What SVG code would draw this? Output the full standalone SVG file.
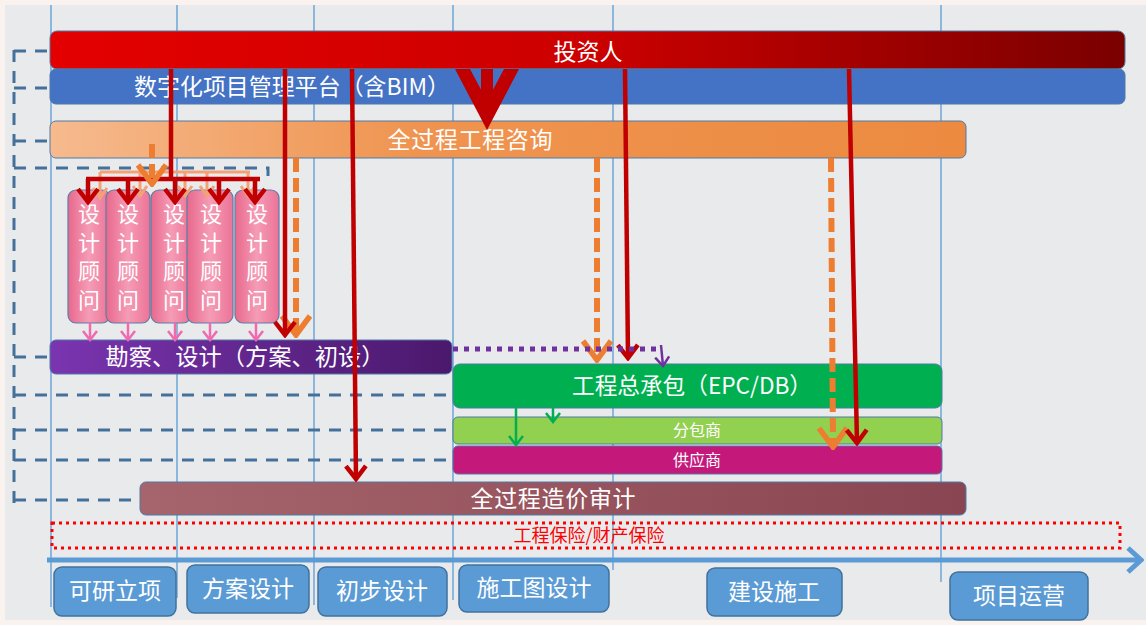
<svg xmlns="http://www.w3.org/2000/svg" width="1146" height="625" viewBox="0 0 1146 625">
<style>
.t{font-family:"Noto Sans CJK SC","Noto Sans",sans-serif;fill:#fff;text-anchor:middle}
.t22{font-size:23px}
.t16{font-size:16px}
.vt{font-family:"Noto Sans CJK SC","Noto Sans",sans-serif;fill:#fff;font-size:22px;writing-mode:vertical-rl;letter-spacing:6.5px}
.grid{stroke:#5b9bd5;stroke-width:1.3}
.band{stroke:#4f7aa6;stroke-width:1}
.lead{fill:none;stroke:#44709a;stroke-width:3;stroke-dasharray:12 9}
.red{fill:none;stroke:#c00000;stroke-width:4.5}
.orgd{fill:none;stroke:#ed7d31;stroke-width:6;stroke-dasharray:14 6}
.orgl{fill:none;stroke:#f3a277;stroke-width:3}
.pink{fill:none;stroke:#f06ab0;stroke-width:2.5}
.green{fill:none;stroke:#00b050;stroke-width:2.5}
.purp{fill:none;stroke:#7030a0;stroke-width:2.5}
.stage{fill:#5b9bd5;stroke:#41719c;stroke-width:1.5}
.dc{fill:url(#gPink);stroke:#5b7fa6;stroke-width:1.2}
</style>
<defs>
<linearGradient id="gRed" x1="0" y1="0" x2="1" y2="0"><stop offset="0" stop-color="#e40000"/><stop offset="0.5" stop-color="#cc0000"/><stop offset="1" stop-color="#7a0000"/></linearGradient>
<linearGradient id="gOrange" x1="0" y1="0" x2="1" y2="0"><stop offset="0" stop-color="#f6ba8e"/><stop offset="0.4" stop-color="#ef9450"/><stop offset="1" stop-color="#ec8a40"/></linearGradient>
<linearGradient id="gPurple" x1="0" y1="0" x2="1" y2="0"><stop offset="0" stop-color="#7a35b0"/><stop offset="1" stop-color="#4a186c"/></linearGradient>
<linearGradient id="gBrown" x1="0" y1="0" x2="1" y2="0"><stop offset="0" stop-color="#a6646c"/><stop offset="1" stop-color="#894652"/></linearGradient>
<linearGradient id="gPink" x1="0" y1="0" x2="1" y2="0"><stop offset="0" stop-color="#e8688c"/><stop offset="0.5" stop-color="#f59cb6"/><stop offset="1" stop-color="#ec7397"/></linearGradient>
<marker id="mRed" markerUnits="userSpaceOnUse" viewBox="0 0 18 24" markerWidth="18" markerHeight="24" refX="15" refY="12" orient="auto"><path d="M2,2 L15,12 L2,22" fill="none" stroke="#c00000" stroke-width="4.5"/></marker>
<marker id="mOrg" markerUnits="userSpaceOnUse" viewBox="0 0 24 32" markerWidth="24" markerHeight="32" refX="21" refY="16" orient="auto"><path d="M2,2 L21,16 L2,30" fill="none" stroke="#ed7d31" stroke-width="5.5"/></marker>
<marker id="mOrgL" markerUnits="userSpaceOnUse" viewBox="0 0 14 18" markerWidth="14" markerHeight="18" refX="12" refY="9" orient="auto"><path d="M2,2 L12,9 L2,16" fill="none" stroke="#f3a277" stroke-width="3"/></marker>
<marker id="mPink" markerUnits="userSpaceOnUse" viewBox="0 0 12 16" markerWidth="12" markerHeight="16" refX="10" refY="8" orient="auto"><path d="M1,1 L10,8 L1,15" fill="none" stroke="#f06ab0" stroke-width="2.5"/></marker>
<marker id="mGreen" markerUnits="userSpaceOnUse" viewBox="0 0 12 16" markerWidth="12" markerHeight="16" refX="10" refY="8" orient="auto"><path d="M1,1 L10,8 L1,15" fill="none" stroke="#00b050" stroke-width="2.5"/></marker>
<marker id="mPurp" markerUnits="userSpaceOnUse" viewBox="0 0 12 16" markerWidth="12" markerHeight="16" refX="10" refY="8" orient="auto"><path d="M1,1 L10,8 L1,15" fill="none" stroke="#7030a0" stroke-width="2.5"/></marker>
<marker id="mAxis" markerUnits="userSpaceOnUse" viewBox="0 0 18 28" markerWidth="18" markerHeight="28" refX="15" refY="14" orient="auto"><path d="M2,2 L15,14 L2,26" fill="none" stroke="#5b9bd5" stroke-width="5"/></marker>
</defs>

<rect x="0" y="0" width="1146" height="625" fill="#faf2ee"/>
<rect x="5" y="5" width="1141" height="615" fill="#e9eaec"/>

<g id="grid">
<line class="grid" x1="51" y1="5" x2="51" y2="607"/>
<line class="grid" x1="177" y1="5" x2="177" y2="598"/>
<line class="grid" x1="314" y1="5" x2="314" y2="605"/>
<line class="grid" x1="453" y1="5" x2="453" y2="600"/>
<line class="grid" x1="613" y1="5" x2="613" y2="570"/>
<line class="grid" x1="941" y1="5" x2="941" y2="582"/>
</g>

<g id="investor"><rect class="band" x="50" y="31" width="1075" height="38" rx="7" fill="url(#gRed)"/><text class="t t22" x="588" y="60">投资人</text></g>
<g id="platform"><rect class="band" x="50" y="69" width="1075" height="35" rx="6" fill="#4472c4"/><text class="t t22" x="292" y="95" textLength="316" lengthAdjust="spacingAndGlyphs">数字化项目管理平台（含BIM）</text></g>
<g id="consult"><rect class="band" x="50" y="121" width="916" height="37" rx="6" fill="url(#gOrange)"/><text class="t t22" x="470" y="148" textLength="165">全过程工程咨询</text></g>

<g id="dc1"><rect class="dc" x="68" y="190" width="42" height="133" rx="8"/><text class="vt" x="89" y="203">设计顾问</text></g>
<g id="dc2"><rect class="dc" x="106" y="190" width="44" height="133" rx="8"/><text class="vt" x="128" y="203">设计顾问</text></g>
<g id="dc3"><rect class="dc" x="151" y="190" width="40" height="133" rx="8"/><text class="vt" x="174" y="203">设计顾问</text></g>
<g id="dc4"><rect class="dc" x="187" y="190" width="46" height="133" rx="8"/><text class="vt" x="211" y="203">设计顾问</text></g>
<g id="dc5"><rect class="dc" x="235" y="190" width="44" height="133" rx="8"/><text class="vt" x="257" y="203">设计顾问</text></g>

<g id="survey"><rect class="band" x="50" y="340" width="402" height="34" rx="6" fill="url(#gPurple)"/><text class="t t22" x="245" y="365" textLength="279" lengthAdjust="spacingAndGlyphs">勘察、设计（方案、初设）</text></g>
<g id="epc"><rect class="band" x="453" y="364" width="489" height="44" rx="7" fill="#00b050"/><text class="t t22" x="692" y="394" textLength="240" lengthAdjust="spacingAndGlyphs">工程总承包（EPC/DB）</text></g>
<g id="sub"><rect class="band" x="453" y="417" width="489" height="27" rx="5" fill="#92d050"/><text class="t t16" x="697" y="436">分包商</text></g>
<g id="supplier"><rect class="band" x="453" y="446" width="489" height="28" rx="5" fill="#c4197b"/><text class="t t16" x="697" y="466">供应商</text></g>
<g id="audit"><rect class="band" x="140" y="482" width="826" height="33" rx="6" fill="url(#gBrown)"/><text class="t t22" x="553" y="507" textLength="165">全过程造价审计</text></g>
<g id="insurance"><rect x="52" y="523" width="1068" height="25" fill="none" stroke="#ff0000" stroke-width="3" stroke-dasharray="3 4"/><text class="t" x="589" y="542" style="font-size:18px;fill:#ff0000">工程保险/财产保险</text></g>

<g id="stages">
<g id="s1"><rect class="stage" x="54" y="567" width="122" height="49" rx="8"/><text class="t t22" x="115" y="599">可研立项</text></g>
<g id="s2"><rect class="stage" x="187" y="565" width="122" height="48" rx="8"/><text class="t t22" x="248" y="597">方案设计</text></g>
<g id="s3"><rect class="stage" x="318" y="567" width="129" height="49" rx="8"/><text class="t t22" x="382" y="599">初步设计</text></g>
<g id="s4"><rect class="stage" x="459" y="565" width="150" height="47" rx="8"/><text class="t t22" x="534" y="596">施工图设计</text></g>
<g id="s5"><rect class="stage" x="707" y="568" width="135" height="48" rx="8"/><text class="t t22" x="774" y="600">建设施工</text></g>
<g id="s6"><rect class="stage" x="950" y="572" width="138" height="48" rx="8"/><text class="t t22" x="1019" y="604">项目运营</text></g>
</g>

<g id="connectors">
<path class="lead" d="M14,50 V512"/>
<path class="lead" d="M14,51 H48"/>
<path class="lead" d="M14,88 H48"/>
<path class="lead" d="M14,141 H48"/>
<path class="lead" d="M14,168 H268 V176"/>
<path class="lead" d="M14,357 H48"/>
<path class="lead" d="M14,395 H451"/>
<path class="lead" d="M14,430 H451"/>
<path class="lead" d="M14,460 H451"/>
<path class="lead" d="M14,500 H138"/>
<line x1="47" y1="560" x2="1141" y2="560" stroke="#5b9bd5" stroke-width="5" marker-end="url(#mAxis)"/>
<path class="orgl" d="M100,172 H250"/>
<line class="orgl" x1="100" y1="172" x2="100" y2="198" marker-end="url(#mOrgL)"/>
<line class="orgl" x1="140" y1="172" x2="140" y2="196" marker-end="url(#mOrgL)"/>
<line class="orgl" x1="185" y1="172" x2="185" y2="196" marker-end="url(#mOrgL)"/>
<line class="orgl" x1="207" y1="172" x2="207" y2="196" marker-end="url(#mOrgL)"/>
<line class="orgl" x1="248" y1="172" x2="248" y2="196" marker-end="url(#mOrgL)"/>
<path class="red" d="M171,69 V179 M86,179 H260"/>
<line class="red" x1="88" y1="179" x2="88" y2="202" marker-end="url(#mRed)"/>
<line class="red" x1="128" y1="179" x2="128" y2="202" marker-end="url(#mRed)"/>
<line class="red" x1="175" y1="179" x2="175" y2="202" marker-end="url(#mRed)"/>
<line class="red" x1="219" y1="179" x2="219" y2="202" marker-end="url(#mRed)"/>
<line class="red" x1="255" y1="179" x2="255" y2="202" marker-end="url(#mRed)"/>
<line class="orgd" x1="152" y1="144" x2="152" y2="184" marker-end="url(#mOrg)"/>
<line class="orgd" x1="296" y1="158" x2="296" y2="335" marker-end="url(#mOrg)"/>
<line class="orgd" x1="597" y1="158" x2="597" y2="360" marker-end="url(#mOrg)"/>
<line class="orgd" x1="831" y1="158" x2="833" y2="447" marker-end="url(#mOrg)"/>
<line class="red" x1="285" y1="69" x2="285" y2="335" marker-end="url(#mRed)"/>
<line class="red" x1="352" y1="69" x2="356" y2="479" marker-end="url(#mRed)"/>
<line class="red" x1="625" y1="69" x2="628" y2="358" marker-end="url(#mRed)"/>
<line class="red" x1="849" y1="69" x2="857" y2="443" marker-end="url(#mRed)"/>
<polygon points="455,69 470,69 487,101 504,69 519,69 487,130" fill="#c00000"/>
<rect x="481" y="69" width="12" height="36" fill="#c00000"/>
<line class="pink" x1="90" y1="323" x2="90" y2="340" marker-end="url(#mPink)"/>
<line class="pink" x1="128" y1="323" x2="128" y2="340" marker-end="url(#mPink)"/>
<line class="pink" x1="175" y1="323" x2="175" y2="340" marker-end="url(#mPink)"/>
<line class="pink" x1="210" y1="323" x2="210" y2="340" marker-end="url(#mPink)"/>
<line class="pink" x1="256" y1="323" x2="256" y2="340" marker-end="url(#mPink)"/>
<path d="M453,349 H660" fill="none" stroke="#7030a0" stroke-width="5" stroke-dasharray="5 6"/>
<line class="purp" x1="661" y1="345" x2="663" y2="366" marker-end="url(#mPurp)"/>
<line class="green" x1="516" y1="408" x2="516" y2="445" marker-end="url(#mGreen)"/>
<line class="green" x1="553" y1="408" x2="553" y2="422" marker-end="url(#mGreen)"/>
</g>
</svg>
